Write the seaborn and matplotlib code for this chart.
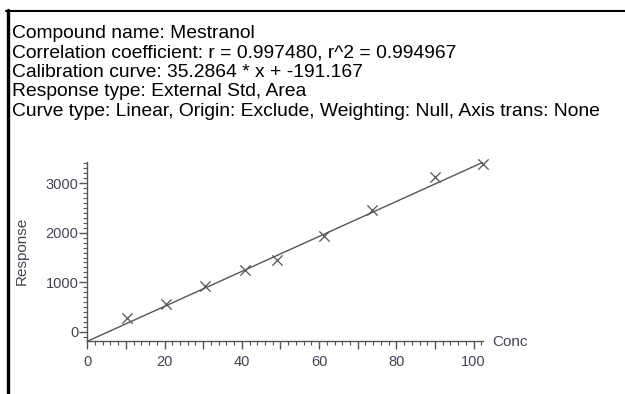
import matplotlib
matplotlib.use("Agg")
import matplotlib.pyplot as plt
import matplotlib.lines as mlines
from matplotlib.ticker import MultipleLocator, FuncFormatter
import numpy as np
import pandas as pd
import seaborn as sns

# ---- data ----
conc = [10.2, 20.3, 30.4, 40.9, 49.2, 61.2, 73.7, 90.1, 102.3]
response = [280, 570, 918, 1245, 1446, 1928, 2464, 3133, 3388]
slope = 35.2864
intercept = -191.167
header_lines = [
    "Compound name: Mestranol",
    "Correlation coefficient: r = 0.997480, r^2 = 0.994967",
    "Calibration curve: 35.2864 * x + -191.167",
    "Response type: External Std, Area",
    "Curve type: Linear, Origin: Exclude, Weighting: Null, Axis trans: None",
]
x_ticks = [0, 20, 40, 60, 80, 100]
y_ticks = [0, 1000, 2000, 3000]

sns.set_theme(style="white")
plt.rcParams['font.family'] = ['Liberation Sans', 'DejaVu Sans']

W, H = 625, 394
fig = plt.figure(figsize=(W / 100, H / 100), dpi=100)
fig.patch.set_facecolor("white")

# frame lines (top and left)
fig.add_artist(mlines.Line2D([6 / W, 1.0], [1 - 11 / H, 1 - 11 / H], color="black", lw=1.5))
fig.add_artist(mlines.Line2D([8 / W, 8 / W], [0, 1 - 10 / H], color="black", lw=2.4))

# header text
baselines = [37.7, 57.3, 76.7, 96.2, 115.7]
for txt, b in zip(header_lines, baselines):
    fig.text(12 / W, 1 - b / H, txt, fontsize=13.9, color="black", va="baseline", ha="left")

left_px, right_px = 87.3, 483.3
top_px, bottom_px = 161.7, 341.0
ax = fig.add_axes([left_px / W, 1 - bottom_px / H, (right_px - left_px) / W, (bottom_px - top_px) / H])
ax.set_facecolor("white")

df_pts = pd.DataFrame({"Conc": conc, "Response": response})
x_line = np.array([0.0, max(conc)])
df_line = pd.DataFrame({"Conc": x_line, "Response": slope * x_line + intercept})

sns.lineplot(data=df_line, x="Conc", y="Response", ax=ax, color="#555555", lw=1.0, clip_on=False)
sns.scatterplot(data=df_pts, x="Conc", y="Response", ax=ax, marker="x", color="#555555",
                s=55, linewidth=0.9, zorder=3, clip_on=False)

ax.set_xlim(0, 102.5)
ax.set_ylim(-185, 3434)

for s in ["top", "right"]:
    ax.spines[s].set_visible(False)
for s in ["left", "bottom"]:
    ax.spines[s].set_color("#555555")
    ax.spines[s].set_linewidth(1.0)

# x: major ticks every 10, labels only on the listed values
ax.xaxis.set_major_locator(MultipleLocator(10))
ax.xaxis.set_major_formatter(FuncFormatter(
    lambda v, p: f"{int(round(v))}" if int(round(v)) in x_ticks else ""))
ax.set_yticks(y_ticks)
ax.xaxis.set_minor_locator(MultipleLocator(2))
ax.yaxis.set_minor_locator(MultipleLocator(100))
ax.tick_params(axis="both", which="major", direction="out", length=6, width=1,
               color="#555555", labelcolor="#444455", labelsize=10.5)
ax.tick_params(axis="x", which="major", pad=4)
ax.tick_params(axis="y", which="major", pad=0.5)
ax.tick_params(axis="both", which="minor", direction="out", length=3, width=0.8, color="#555555")
ax.tick_params(axis="x", which="both", bottom=True)
ax.tick_params(axis="y", which="both", left=True)

ax.set_xlabel("")
ax.set_ylabel("")
fig.text(21.5 / W, 1 - 251 / H, "Response", fontsize=11, color="#444455",
         rotation=90, va="center", ha="center")
fig.text(492.5 / W, 1 - 341.5 / H, "Conc", fontsize=11, color="#444455", va="center", ha="left")

fig.savefig("out.png", dpi=100, facecolor="white")
